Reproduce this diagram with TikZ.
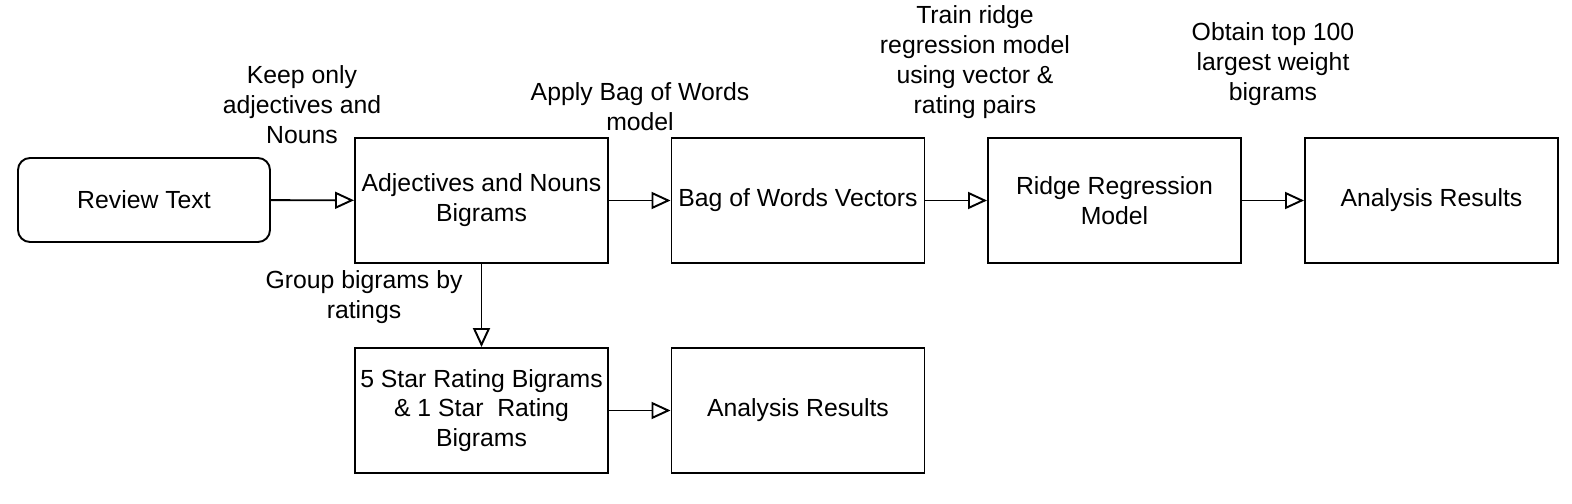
\documentclass[tikz,border=0pt]{standalone}
\usepackage{fontspec}
\setmainfont{Liberation Sans}
\usetikzlibrary{arrows.meta}

\tikzset{
	box/.style={draw, line width=1.1pt, minimum width=5.06cm, minimum height=2.5cm, align=center, inner sep=1pt},
	startbox/.style={box, rounded corners=0.24cm, minimum width=5.04cm, minimum height=1.68cm},
	lbl/.style={align=center, inner sep=0pt},
	flow/.style={line width=1.1pt, -{Triangle[open, length=0.38cm, width=0.34cm, line width=1.1pt]}}
}

\begin{document}
\begin{tikzpicture}[font=\fontsize{14.1}{17}\selectfont]
%		\draw[help lines] (0,0) grid (31,-10);
		\useasboundingbox (0,0) rectangle (31.44,-10.08);
		% top row
		\node[startbox] (review) at (2.88,-4.00) {Review Text};
		\node[box] (adj) at (9.63,-4.01) {Adjectives and Nouns\\Bigrams};
		\node[box] (bow) at (15.96,-4.01) {Bag of Words Vectors};
		\node[box] (ridge) at (22.29,-4.01) {Ridge Regression\\Model};
		\node[box] (res) at (28.63,-4.01) {Analysis Results};
		
		% bottom row
		\node[box] (stars) at (9.63,-8.21) {5 Star Rating Bigrams\\\& 1 Star\ \ Rating\\Bigrams};
		\node[box] (starres) at (15.96,-8.21) {Analysis Results};
		
		% edge labels
		\node[lbl] (keep) at (6.04,-2.10) {Keep only\\adjectives and\\Nouns};
		\node[lbl] (apply) at (12.80,-2.14) {Apply Bag of Words\\model};
		\node[lbl] (train) at (19.50,-1.24) {Train ridge\\regression model\\using vector \&\\rating pairs};
		\node[lbl] (obtain) at (25.46,-1.28) {Obtain top 100\\largest weight\\bigrams};
		\node[lbl] (group) at (7.28,-5.94) {Group bigrams by\\ratings};
		
		\draw[flow] (review) -- (adj);
		\draw[flow] (adj) -- (bow);
		\draw[flow] (bow) -- (ridge);
		\draw[flow] (ridge) -- (res);
		\draw[flow] (adj) -- (stars);
		\draw[flow] (stars) -- (starres);
	\end{tikzpicture}
\end{document}
